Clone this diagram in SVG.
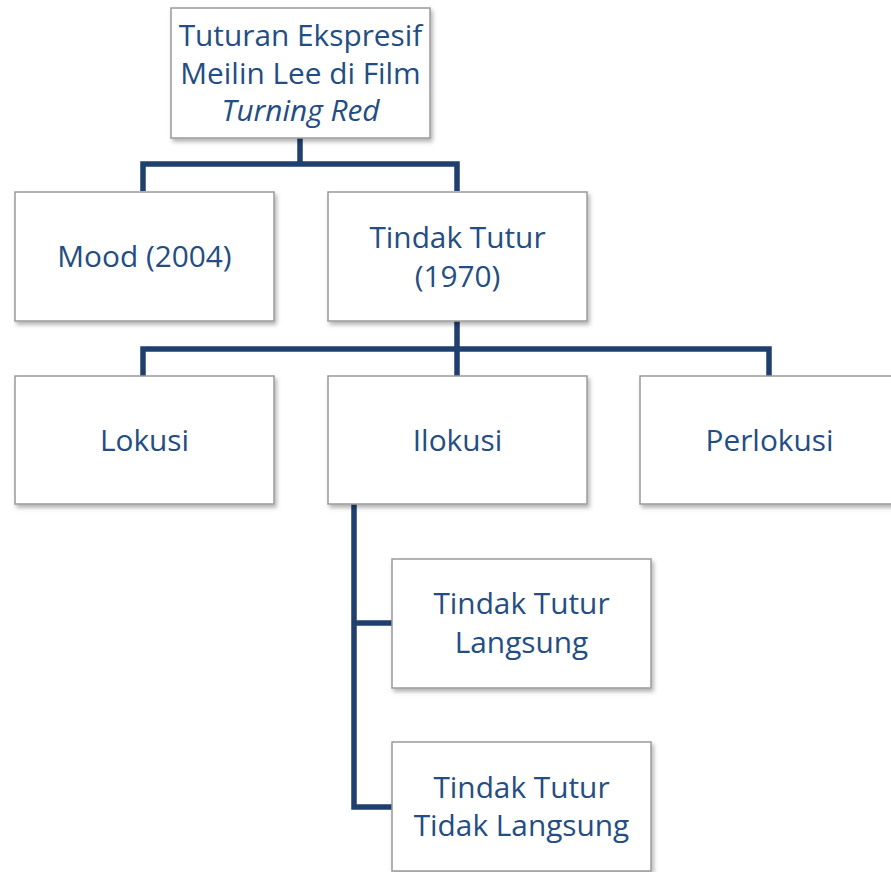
<svg xmlns="http://www.w3.org/2000/svg" width="891" height="872" viewBox="0 0 891 872">
<style>
.box{fill:#ffffff;stroke:#9a9a9a;stroke-width:1.5;filter:url(#sh)}
.t{font-family:"Open Sans","Noto Sans",sans-serif;font-size:29.8px;fill:#234d83;text-anchor:middle}
.c{fill:none;stroke:#1f3f6f;stroke-width:5.5;stroke-linejoin:miter}
</style>
<defs>
<filter id="sh" x="-10%" y="-10%" width="125%" height="130%">
<feDropShadow dx="2" dy="3" stdDeviation="2" flood-color="#000" flood-opacity="0.3"/>
</filter>
</defs>
<rect width="891" height="872" fill="#ffffff"/>
<g id="connectors">
<path class="c" d="M300,138 V164 M143,191 V164 H457 V191"/>
<path class="c" d="M457,321 V376 M143,376 V349 H769 V376"/>
<path class="c" d="M354,504 V807 H392 M354,623 H392"/>
</g>
<g id="n-root">
<rect class="box" x="171" y="8" width="259" height="130"/>
<text class="t" x="300.5" y="46">Tuturan Ekspresif</text>
<text class="t" x="300.5" y="84">Meilin Lee di Film</text>
<text class="t" x="300.5" y="121" font-style="italic">Turning Red</text>
</g>
<g id="n-mood">
<rect class="box" x="15" y="192" width="259" height="129"/>
<text class="t" x="144.5" y="267">Mood (2004)</text>
</g>
<g id="n-tindak">
<rect class="box" x="328" y="192" width="259" height="129"/>
<text class="t" x="457.5" y="248">Tindak Tutur</text>
<text class="t" x="457.5" y="287">(1970)</text>
</g>
<g id="n-lokusi">
<rect class="box" x="15" y="376" width="259" height="128"/>
<text class="t" x="144.5" y="451">Lokusi</text>
</g>
<g id="n-ilokusi">
<rect class="box" x="328" y="376" width="259" height="128"/>
<text class="t" x="457.5" y="451">Ilokusi</text>
</g>
<g id="n-perlokusi">
<rect class="box" x="640" y="376" width="259" height="128"/>
<text class="t" x="769.5" y="451">Perlokusi</text>
</g>
<g id="n-langsung">
<rect class="box" x="392" y="559" width="259" height="129"/>
<text class="t" x="521.5" y="614">Tindak Tutur</text>
<text class="t" x="521.5" y="653">Langsung</text>
</g>
<g id="n-tidak">
<rect class="box" x="392" y="742" width="259" height="129"/>
<text class="t" x="521.5" y="798">Tindak Tutur</text>
<text class="t" x="521.5" y="836">Tidak Langsung</text>
</g>
</svg>
